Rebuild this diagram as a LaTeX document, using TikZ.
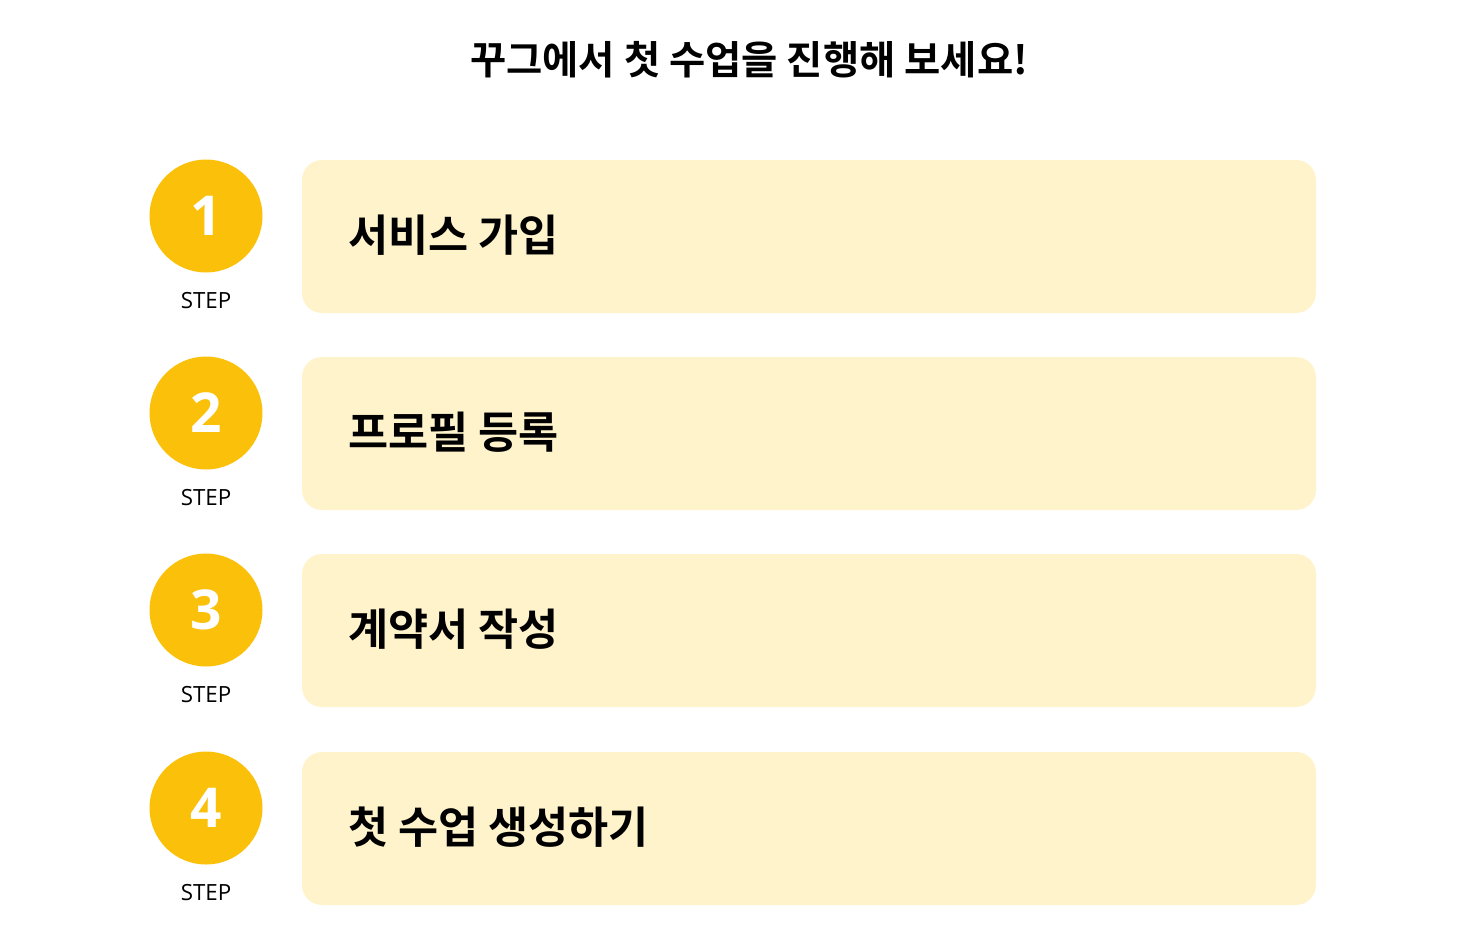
\documentclass[tikz,border=0pt]{standalone}
\usepackage{fontspec}
\newfontfamily\krb{Noto Sans CJK KR Bold}
\newfontfamily\os{Open Sans}
\definecolor{gold}{RGB}{251,192,10}
\definecolor{cream}{RGB}{255,243,204}
\tikzset{
  stepcircle/.style={circle,fill=gold,minimum size=113pt,inner sep=0pt,text=white,font=\os\bfseries\fontsize{55}{55}\selectfont},
  steplabel/.style={font=\os\fontsize{22.3}{22.3}\selectfont,text=black},
  stepbox/.style={fill=cream,rounded corners=20pt},
  boxtext/.style={anchor=west,font=\krb\fontsize{43.6}{43.6}\selectfont,text=black,inner sep=0pt},
}
\begin{document}
\begin{tikzpicture}[x=1pt,y=-1pt]
\useasboundingbox (0,0) rectangle (1472,935);
\node[font=\krb\fontsize{39.4}{39.4}\selectfont,inner sep=0pt] (title) at (749,60) {꾸그에서 첫 수업을 진행해 보세요!};
\foreach \i/\y/\t in {1/216/서비스 가입,2/413/프로필 등록,3/610/계약서 작성,4/808/첫 수업 생성하기}{
  \node[stepcircle] (c\i) at (206,\y) {\i};
  \node[steplabel] (s\i) at (206,\y+85) {STEP};
  \fill[stepbox] (302,\y-56) rectangle (1316,\y+97);
  \node[boxtext] (t\i) at (348,\y+19) {\t};
}
\end{tikzpicture}
\end{document}
